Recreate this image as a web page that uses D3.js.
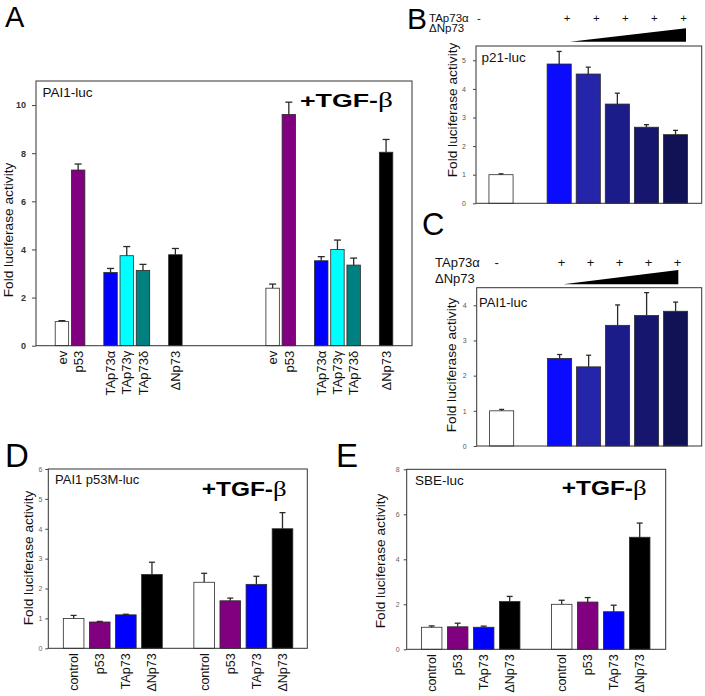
<!DOCTYPE html>
<html><head><meta charset="utf-8">
<script src="https://cdn.jsdelivr.net/npm/d3@7"></script>
<style>body{margin:0;background:#fff} svg{display:block}</style>
</head><body>
<svg id="c" width="705" height="696"></svg>
<script>
// ---------- DATA ----------
// Panel A (PAI1-luc)
const aLabels = ["ev", "p53", "TAp73α", "TAp73γ", "TAp73δ", "ΔNp73"];
const aColors = ["#ffffff", "#800080", "#0000ff", "#00ffff", "#008080", "#000000"];
const aBasal = [1.0, 7.3, 3.04, 3.74, 3.13, 3.78];
const aBasalErr = [0.04, 0.25, 0.17, 0.38, 0.25, 0.26];
const aTgf = [2.39, 9.61, 3.53, 4.0, 3.35, 8.04];
const aTgfErr = [0.17, 0.51, 0.17, 0.39, 0.29, 0.53];
const aTicks = [0, 2, 4, 6, 8, 10];

// Panels B and C (TAp73α + increasing ΔNp73)
const bcColors = ["#ffffff", "#0b0bff", "#2525aa", "#1b1b89", "#16166f", "#111156"];
const bcTAp73 = ["-", "+", "+", "+", "+", "+"];
const bValues = [1.0, 4.87, 4.52, 3.47, 2.66, 2.40];
const bErr = [0.03, 0.44, 0.24, 0.38, 0.09, 0.15];
const bTicks = [0, 1, 2, 3, 4, 5];
const cValues = [1.0, 2.49, 2.25, 3.43, 3.71, 3.83];
const cErr = [0.04, 0.11, 0.33, 0.58, 0.65, 0.26];
const cTicks = [0, 1, 2, 3, 4];

// Panels D and E
const deLabels = ["control", "p53", "TAp73", "ΔNp73"];
const deColors = ["#ffffff", "#800080", "#0000ff", "#000000"];
const dBasal = [1.0, 0.88, 1.12, 2.47];
const dBasalErr = [0.1, 0.02, 0.02, 0.41];
const dTgf = [2.21, 1.59, 2.14, 4.0];
const dTgfErr = [0.3, 0.09, 0.27, 0.54];
const dTicks = [0, 1, 2, 3, 4, 5, 6];
const eBasal = [0.98, 1.0, 0.98, 2.12];
const eBasalErr = [0.06, 0.16, 0.05, 0.23];
const eTgf = [2.0, 2.1, 1.67, 4.98];
const eTgfErr = [0.18, 0.2, 0.29, 0.63];
const eTicks = [0, 2, 4, 6, 8];

// ---------- DRAWING ----------
const SANS = '"Liberation Sans", Arial, sans-serif';
const SERIF = '"Liberation Serif", "DejaVu Serif", serif';
const svg = d3.select("#c");

function panel(o) {
  const x = d3.scaleLinear().domain(o.xd).range([o.l, o.r]);
  const y = d3.scaleLinear().domain(o.yd).range([o.b, o.t]);
  const g = svg.append("g");
  const bw = (x(1) - x(0)) * o.bw;

  g.selectAll("rect.bar").data(o.items).join("rect").attr("class", "bar")
    .attr("x", d => x(d.slot) - bw / 2)
    .attr("y", d => y(d.v))
    .attr("width", bw)
    .attr("height", d => y(0) - y(d.v))
    .attr("fill", d => d.c)
    .attr("stroke", "#2a2a2a").attr("stroke-width", 0.8);

  const eg = g.selectAll("g.err").data(o.items).join("g").attr("class", "err")
    .attr("stroke", "#2a2a2a").attr("stroke-width", 1.3);
  eg.append("line")
    .attr("x1", d => x(d.slot)).attr("x2", d => x(d.slot))
    .attr("y1", d => y(d.v)).attr("y2", d => y(d.v + d.e));
  eg.append("line")
    .attr("x1", d => x(d.slot) - o.cap / 2).attr("x2", d => x(d.slot) + o.cap / 2)
    .attr("y1", d => y(d.v + d.e)).attr("y2", d => y(d.v + d.e));

  g.append("rect").attr("x", o.l).attr("y", o.t)
    .attr("width", o.r - o.l).attr("height", o.b - o.t)
    .attr("fill", "none").attr("stroke", "#333").attr("stroke-width", 1);

  const ag = g.append("g").attr("transform", `translate(${o.l},0)`)
    .call(d3.axisLeft(y).tickValues(o.ticks).tickSize(o.ts).tickPadding(o.tp).tickFormat(d3.format("d")));
  ag.select(".domain").remove();
  ag.selectAll("line").attr("stroke", "#444");
  ag.selectAll("text").attr("font-size", o.tf).attr("fill", o.tc)
    .attr("font-family", SANS).attr("font-weight", o.tw || "normal");

  g.append("text")
    .attr("transform", `translate(${o.ylx},${o.lyc}) rotate(-90)`)
    .attr("text-anchor", "middle").attr("font-family", SANS)
    .attr("font-size", o.ylf).attr("fill", "#111")
    .text("Fold luciferase activity");

  if (o.xlab) {
    g.selectAll("text.xl").data(o.items).join("text").attr("class", "xl")
      .attr("transform", d => `translate(${x(d.slot)},${o.b + 5}) rotate(-90)`)
      .attr("text-anchor", "end").attr("dy", "0.36em")
      .attr("font-family", SANS).attr("font-size", o.xlf).attr("fill", "#111")
      .text(d => d.label);
  }
  return { x, y, g };
}

function items(slots, vals, errs, cols, labels) {
  return vals.map((v, i) => ({ slot: slots[i], v, e: errs[i], c: cols[i], label: labels ? labels[i] : "" }));
}

function letter(t, xx, yy, fs) {
  svg.append("text").attr("x", xx).attr("y", yy).attr("font-family", SANS)
    .attr("font-size", fs).attr("fill", "#000").text(t);
}
function tgf(xx, yy, fs, len) {
  const t = svg.append("text").attr("x", xx).attr("y", yy)
    .attr("textLength", len).attr("lengthAdjust", "spacingAndGlyphs").attr("fill", "#000");
  t.append("tspan").attr("font-family", SANS).attr("font-weight", "bold").attr("font-size", fs).text("+TGF-");
  t.append("tspan").attr("font-family", SERIF).attr("font-size", fs * 1.1).text("β");
}
function note(t, xx, yy, fs) {
  svg.append("text").attr("x", xx).attr("y", yy).attr("font-family", SANS)
    .attr("font-size", fs).attr("fill", "#111").text(t);
}

// Panel A
const aSlots = [0, 1, 3, 4, 5, 7];
const aItems = items(aSlots, aBasal, aBasalErr, aColors, aLabels)
  .concat(items(aSlots.map(s => s + 13), aTgf, aTgfErr, aColors, aLabels));
panel({ items: aItems, xd: [-1.6, 21.6], l: 36, r: 412, yd: [0, 11], t: 81, b: 345.7, bw: 0.83, cap: 7,
  ticks: aTicks, ts: 4, tp: 6, tf: 9, tc: "#333", tw: "bold",
  ylx: 13, lyc: 230, ylf: 13.7, xlab: true, xlf: 13 });
letter("A", 5, 27, 29);
note("PAI1-luc", 42.5, 96.5, 13.5);
tgf(300, 107, 19, 93);

// Panel B
const bcSlots = [0, 2, 3, 4, 5, 6];
const pb = panel({ items: items(bcSlots, bValues, bErr, bcColors), xd: [-0.86, 6.9], l: 476, r: 701.7,
  yd: [0, 5.5], t: 46, b: 203.3, bw: 0.83, cap: 5, ticks: bTicks, ts: 3, tp: 7, tf: 7, tc: "#555",
  ylx: 457, lyc: 110, ylf: 13.7, xlab: false });
letter("B", 407, 29, 30);
note("TAp73α", 429, 21.5, 11.5);
note("ΔNp73", 429, 32, 11.5);
note("p21-luc", 481.5, 61.5, 13.5);
svg.selectAll("text.pb").data(bcTAp73).join("text").attr("class", "pb")
  .attr("x", (d, i) => i === 0 ? 479 : pb.x(bcSlots[i]) + 8)
  .attr("y", 21.5).attr("text-anchor", "middle").attr("font-family", SANS)
  .attr("font-size", 11.5).attr("fill", "#111").text(d => d);
svg.append("path").attr("d", "M570,41.7L686,28.3L686,41.7Z").attr("fill", "#000");

// Panel C
const pc = panel({ items: items(bcSlots, cValues, cErr, bcColors), xd: [-0.86, 6.9], l: 476.7, r: 701.7,
  yd: [0, 4.5], t: 287.7, b: 446, bw: 0.83, cap: 5, ticks: cTicks, ts: 3, tp: 7, tf: 7, tc: "#555",
  ylx: 456, lyc: 365, ylf: 13.7, xlab: false });
letter("C", 422, 235, 31);
note("TAp73α", 435, 267, 13);
note("ΔNp73", 435, 283, 13);
note("PAI1-luc", 479, 306.5, 13);
svg.selectAll("text.pc").data(bcTAp73).join("text").attr("class", "pc")
  .attr("x", (d, i) => i === 0 ? 496.7 : pc.x(bcSlots[i]) + 2)
  .attr("y", 267).attr("text-anchor", "middle").attr("font-family", SANS)
  .attr("font-size", 13).attr("fill", "#111").text(d => d);
svg.append("path").attr("d", "M563.3,284.3L678.3,270L678.3,284.3Z").attr("fill", "#000");

// Panel D
const deSlots = [0, 1, 2, 3];
const dItems = items(deSlots, dBasal, dBasalErr, deColors, deLabels)
  .concat(items(deSlots.map(s => s + 5), dTgf, dTgfErr, deColors, deLabels));
panel({ items: dItems, xd: [-0.97, 8.95], l: 48.3, r: 307.3, yd: [0, 6], t: 469, b: 648.3, bw: 0.79, cap: 6,
  ticks: dTicks, ts: 3, tp: 3, tf: 7, tc: "#666", ylx: 33, lyc: 558, ylf: 13.7, xlab: true, xlf: 12.5 });
letter("D", 5, 467, 33);
note("PAI1 p53M-luc", 55, 484, 13);
tgf(201.7, 495.5, 19.5, 85);

// Panel E
const eItems = items(deSlots, eBasal, eBasalErr, deColors, deLabels)
  .concat(items(deSlots.map(s => s + 5), eTgf, eTgfErr, deColors, deLabels));
panel({ items: eItems, xd: [-0.96, 9.0], l: 406.7, r: 665.7, yd: [0, 8], t: 469.3, b: 649.3, bw: 0.79, cap: 6,
  ticks: eTicks, ts: 3, tp: 4, tf: 7, tc: "#666", ylx: 385, lyc: 561, ylf: 13.7, xlab: true, xlf: 12.5 });
letter("E", 336, 467, 33);
note("SBE-luc", 415, 485, 13.5);
tgf(561.7, 495, 19.5, 85);
</script>
</body></html>
